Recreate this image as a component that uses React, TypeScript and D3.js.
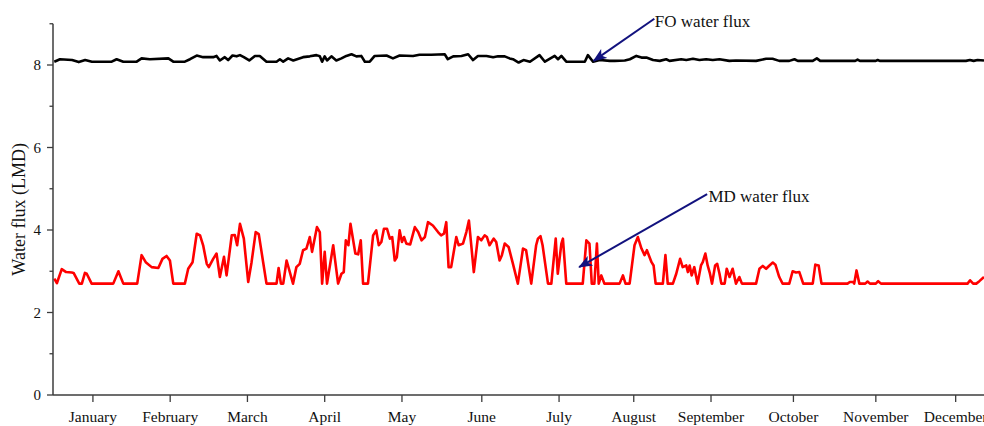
import React from 'react';
import * as d3 from 'd3';

// day of year vs flux (LMD)
const foFlux: [number, number][] = [
  [0, 8.08], [2.2, 8.14], [6.9, 8.12], [9.5, 8.07], [12, 8.12], [14.6, 8.08], [22.3, 8.08], [24.2, 8.14],
  [26.8, 8.08], [32, 8.08], [33.9, 8.16], [37.1, 8.14], [44.3, 8.16], [46.2, 8.08], [50.7, 8.08], [52.7, 8.14],
  [55.3, 8.23], [57.8, 8.19], [61.7, 8.19], [63, 8.22], [64.3, 8.11], [66.2, 8.19], [67.5, 8.12], [69.2, 8.23],
  [70.8, 8.21], [72.1, 8.24], [73.6, 8.19], [75.7, 8.11], [77.9, 8.22], [79.8, 8.22], [82.4, 8.08], [86.3, 8.08],
  [87.6, 8.14], [88.9, 8.08], [90.8, 8.16], [92.8, 8.11], [96.6, 8.19], [99.2, 8.21], [101.8, 8.24], [103.1, 8.21],
  [104, 8.08], [105, 8.21], [105.9, 8.11], [107.6, 8.21], [109.5, 8.11], [111.5, 8.16], [113.4, 8.22], [115.4, 8.26],
  [117.3, 8.21], [119.2, 8.22], [120.6, 8.08], [122.5, 8.08], [124.4, 8.22], [129, 8.23], [131.5, 8.16], [134.1, 8.23],
  [139.3, 8.22], [141.8, 8.25], [146.4, 8.25], [151.6, 8.26], [152.8, 8.14], [154.9, 8.21], [158.1, 8.22], [160.7, 8.26],
  [162.6, 8.12], [164.5, 8.22], [167.8, 8.22], [170.4, 8.19], [172.3, 8.21], [174.9, 8.21], [176.8, 8.16], [178.1, 8.14],
  [180.3, 8.06], [182.2, 8.12], [184.7, 8.08], [188.4, 8.24], [190.5, 8.08], [194.3, 8.22], [195.6, 8.14], [196.9, 8.22],
  [198.8, 8.08], [206, 8.08], [207.2, 8.24], [209.2, 8.08], [211.8, 8.12], [215.7, 8.1], [217.6, 8.1], [221.5, 8.11],
  [223.5, 8.14], [226, 8.22], [228, 8.18], [229.9, 8.18], [232.5, 8.12], [235.1, 8.1], [237.6, 8.14], [238.9, 8.1],
  [243.4, 8.14], [245.4, 8.12], [248, 8.15], [250.5, 8.12], [253.1, 8.14], [255.7, 8.12], [258.3, 8.14], [262.1, 8.1],
  [264.7, 8.11], [272.5, 8.1], [276.4, 8.15], [278.9, 8.15], [281.5, 8.1], [285.4, 8.1], [287.4, 8.14], [288.7, 8.1],
  [294.5, 8.1], [296.1, 8.16], [297.4, 8.1], [311, 8.1], [311.9, 8.13], [312.8, 8.1], [319, 8.1], [319.7, 8.12],
  [320.5, 8.1], [354, 8.1], [355.5, 8.12], [357, 8.1], [358.5, 8.12], [361, 8.11],
];

const mdFlux: [number, number][] = [
  [0, 2.82], [1, 2.71], [2.9, 3.05], [4.6, 2.98], [6.8, 2.97], [7.5, 2.96], [9.7, 2.7], [10.7, 2.7], [11.9, 2.96],
  [12.6, 2.94], [14.5, 2.7], [22.9, 2.7], [24.9, 3.0], [26.8, 2.7], [32.2, 2.7], [33.9, 3.39], [35.5, 3.22], [37.8, 3.1],
  [40.4, 3.08], [42, 3.3], [43.6, 3.37], [44.9, 3.26], [46.2, 2.7], [50.7, 2.7], [52, 3.06], [53.7, 3.22], [55.3, 3.91],
  [56.6, 3.87], [57.8, 3.63], [59.2, 3.18], [60, 3.1], [61.7, 3.3], [63, 3.43], [64.3, 2.86], [65.9, 3.35], [66.9, 2.9],
  [68.9, 3.87], [70.1, 3.88], [71, 3.63], [72.1, 4.15], [73.6, 3.79], [75.3, 2.74], [76.6, 3.22], [78.2, 3.95], [79.4, 3.9],
  [81.1, 3.22], [82.4, 2.7], [86.3, 2.7], [87.1, 3.08], [88, 2.7], [88.9, 2.7], [90.2, 3.26], [92.7, 2.7], [94, 3.1],
  [95.3, 3.18], [96.6, 3.51], [97.9, 3.55], [99.2, 3.83], [100.1, 3.47], [102, 4.07], [103.1, 3.95], [104, 2.7], [105, 3.47],
  [105.9, 2.7], [108.3, 3.63], [110.2, 2.7], [111.5, 2.94], [112.4, 2.98], [113.2, 3.75], [114.2, 3.63], [115, 4.15],
  [116.9, 3.43], [118, 3.41], [119, 3.75], [119.9, 2.7], [121.8, 2.7], [123.8, 3.87], [125, 3.99], [126, 3.63], [127, 3.71],
  [128, 4.03], [129.2, 4.03], [130.3, 3.79], [131.2, 3.83], [132.2, 3.26], [133, 3.34], [134.1, 3.99], [135, 3.71],
  [135.8, 3.83], [136.7, 3.67], [138.2, 3.65], [140, 4.07], [141.3, 3.95], [142.6, 3.75], [143.9, 3.83], [145.1, 4.19],
  [147, 4.11], [149, 3.95], [150.2, 3.87], [151.3, 3.91], [152.2, 4.19], [153.1, 3.1], [154.1, 3.1], [156.1, 3.83],
  [157, 3.63], [158.7, 3.67], [160, 3.95], [161, 4.23], [162.9, 2.98], [164.5, 3.83], [165.8, 3.75], [167.1, 3.87],
  [168, 3.83], [169, 3.63], [170.6, 3.79], [171.6, 3.71], [172.9, 3.26], [173.8, 3.39], [174.9, 3.67], [176.4, 3.59],
  [178.1, 3.18], [180, 2.7], [182, 3.55], [183.2, 3.51], [185.2, 2.7], [187.1, 3.63], [187.8, 3.79], [188.8, 3.85],
  [189.6, 3.63], [191.7, 2.7], [193, 2.7], [194.7, 3.79], [195.5, 2.94], [196.9, 3.67], [197.5, 3.79], [198.8, 2.7],
  [205.2, 2.7], [206.6, 3.75], [207.8, 3.67], [208.7, 2.7], [209.7, 2.7], [210.7, 3.67], [211.4, 2.7], [212.4, 2.9],
  [213.6, 2.7], [219.5, 2.7], [220.8, 2.9], [221.8, 2.7], [223.4, 2.7], [225.3, 3.63], [226.6, 3.83], [228, 3.55],
  [229.2, 3.39], [230.1, 3.51], [231.9, 3.22], [232.7, 3.14], [233.5, 2.7], [236.3, 2.7], [237.3, 3.39], [238.2, 2.7],
  [240.2, 2.7], [241.5, 2.94], [243, 3.3], [244, 3.1], [245.4, 3.14], [246, 2.98], [246.7, 3.14], [247.5, 2.9],
  [248.5, 3.1], [249.8, 2.7], [251.1, 3.14], [251.8, 3.22], [252.8, 3.43], [253.7, 3.14], [254.6, 2.94], [255.4, 2.7],
  [256.6, 3.14], [257.4, 3.18], [258.3, 2.94], [259, 2.7], [260.3, 2.7], [261.1, 3.06], [262.2, 2.86], [263.4, 3.06],
  [264.7, 2.7], [266, 2.86], [267, 2.7], [272.5, 2.7], [273.8, 3.06], [275.1, 3.13], [276.4, 3.06], [277.7, 3.14],
  [279, 3.21], [280, 3.16], [281.5, 2.86], [282.8, 2.7], [285.4, 2.7], [286.7, 3.0], [288, 2.97], [289.3, 2.98],
  [290.8, 2.7], [294.5, 2.7], [295.5, 3.16], [296.8, 3.14], [297.9, 2.7], [308, 2.7], [308.9, 2.74], [310.2, 2.74],
  [310.6, 2.7], [311.5, 3.02], [312.6, 2.7], [314.9, 2.7], [315.8, 2.75], [316.7, 2.7], [319, 2.7], [319.9, 2.76],
  [321, 2.7], [354.6, 2.7], [355.6, 2.78], [356.8, 2.7], [358, 2.7], [359.2, 2.76], [361, 2.86],
];

const monthLabels = ['January', 'February', 'March', 'April', 'May', 'June', 'July', 'August', 'September', 'October', 'November', 'December'];
const monthTickDays = [15, 45, 75, 105, 135, 166, 196, 225, 255, 287, 319, 350];
const yMajorTicks = [0, 2, 4, 6, 8];
const yMinorTicks = [1, 3, 5, 7, 9];

// annotation arrows, in data units (day, flux)
const annotations = [
  { label: 'FO water flux', from: [233, 9.12], to: [209.4, 8.1], text: [233.2, 8.92] },
  { label: 'MD water flux', from: [253.5, 4.87], to: [203.8, 3.1], text: [254, 4.68] },
];

const W = 984;
const H = 426;
const FONT = '"Liberation Serif", "Times New Roman", serif';

export default function App() {
  const x = d3.scaleLinear().domain([-0.5, 361]).range([53, 984]);
  const y = d3.scaleLinear().domain([0, 9]).range([395, 23.75]);

  const line = d3.line<[number, number]>()
    .x(d => x(d[0]))
    .y(d => y(d[1]))
    .curve(d3.curveLinear);

  const axisColor = '#3c3c3c';
  const navy = '#12127e';

  return (
    <svg width={W} height={H} style={{ position: 'absolute', left: 0, top: 0, background: '#fff' }} fontFamily={FONT}>
      <defs>
        <clipPath id="plot">
          <rect x={53} y={0} width={W - 53} height={395} />
        </clipPath>
        <marker id="arrow" viewBox="0 0 14 11" refX="13" refY="5.5" markerWidth="14" markerHeight="11"
          markerUnits="userSpaceOnUse" orient="auto">
          <path d="M0,0 L14,5.5 L0,11 L3.5,5.5 Z" fill={navy} />
        </marker>
      </defs>

      <g clipPath="url(#plot)">
        <path d={line(foFlux) || ''} fill="none" stroke="#000" strokeWidth={2.6} strokeLinejoin="round" />
        <path d={line(mdFlux) || ''} fill="none" stroke="#ff0000" strokeWidth={2.6} strokeLinejoin="round" />
      </g>

      {/* y axis */}
      <line x1={53} x2={53} y1={y(9)} y2={y(0)} stroke={axisColor} strokeWidth={1.5} />
      {yMajorTicks.map(t => (
        <g key={'ym' + t}>
          <line x1={47} x2={53} y1={y(t)} y2={y(t)} stroke={axisColor} strokeWidth={1.3} />
          <text x={41} y={y(t)} dy="0.35em" textAnchor="end" fontSize={15} fill="#111">{t}</text>
        </g>
      ))}
      {yMinorTicks.map(t => (
        <line key={'yn' + t} x1={49.5} x2={53} y1={y(t)} y2={y(t)} stroke={axisColor} strokeWidth={1.3} />
      ))}
      <text transform={`translate(25,${y(4.5)}) rotate(-90)`} textAnchor="middle" fontSize={18} fill="#111">
        Water flux (LMD)
      </text>

      {/* x axis */}
      <line x1={53} x2={W} y1={395} y2={395} stroke={axisColor} strokeWidth={1.5} />
      {monthTickDays.map((d, i) => (
        <g key={'x' + i}>
          <line x1={x(d)} x2={x(d)} y1={395} y2={402} stroke={axisColor} strokeWidth={1.3} />
          <text x={x(d)} y={422} textAnchor="middle" fontSize={15.5} fill="#111">{monthLabels[i]}</text>
        </g>
      ))}

      {/* annotations */}
      {annotations.map(a => (
        <g key={a.label}>
          <line x1={x(a.from[0])} y1={y(a.from[1])} x2={x(a.to[0])} y2={y(a.to[1])}
            stroke={navy} strokeWidth={2} markerEnd="url(#arrow)" />
          <text x={x(a.text[0])} y={y(a.text[1])} fontSize={17} fill="#111">{a.label}</text>
        </g>
      ))}
    </svg>
  );
}
